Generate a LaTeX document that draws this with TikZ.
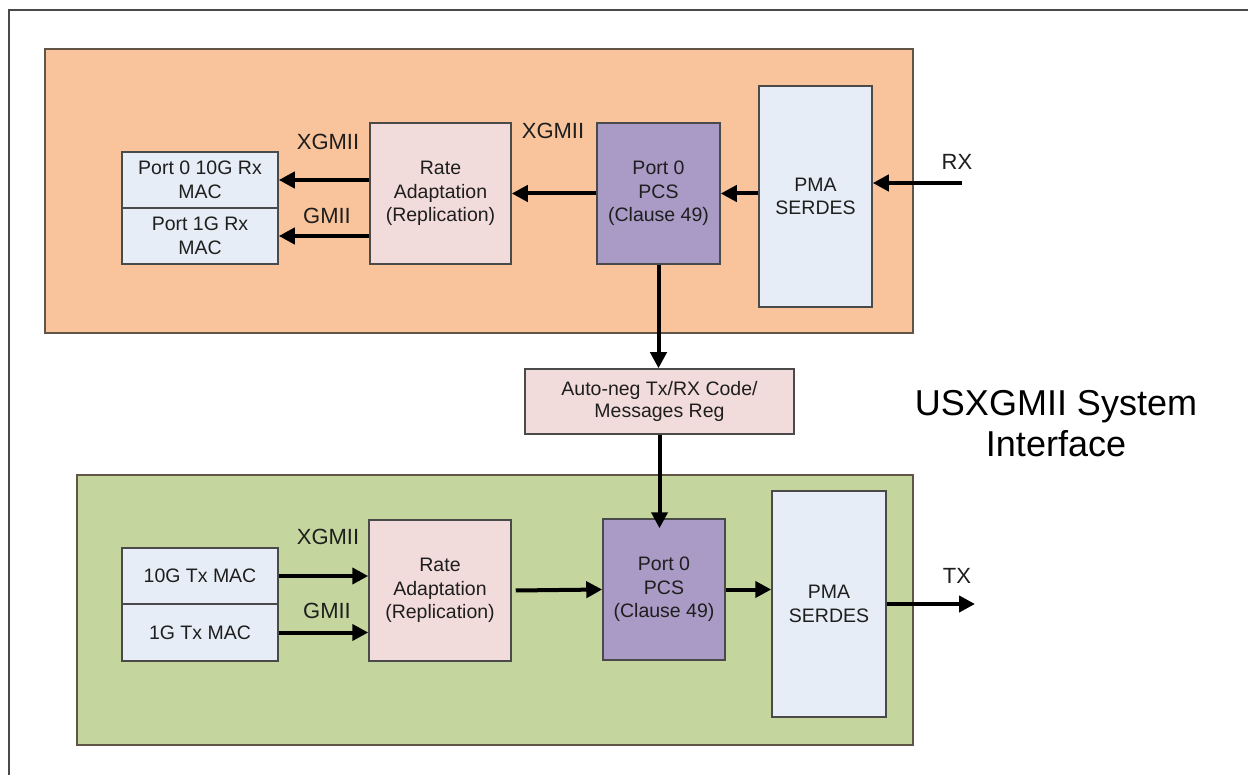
\documentclass[tikz,border=0pt]{standalone}
\usepackage{fontspec}
\setmainfont{Liberation Sans}
\usetikzlibrary{arrows.meta,calc}
\definecolor{orangebg}{HTML}{F9C49B}
\definecolor{greenbg}{HTML}{C4D69D}
\definecolor{macblue}{HTML}{E7EDF6}
\definecolor{ratepink}{HTML}{F2DCDB}
\definecolor{pcspurple}{HTML}{A99BC5}
\definecolor{edgegray}{HTML}{4A4A4A}
\definecolor{txtcol}{HTML}{1E1E1E}
\tikzset{
  blk/.style={draw=edgegray, line width=1.5pt, inner sep=0pt, text=txtcol,
    align=center, font=\fontsize{19.5}{23.5}\selectfont},
  arr/.style={line width=4pt, -{Triangle[length=16pt,width=16pt]}},
  lbl/.style={text=txtcol, inner sep=0pt, font=\fontsize{22}{26}\selectfont},
  region/.style={draw=edgegray!80!brown, line width=1.5pt}
}
\begin{document}
\begin{tikzpicture}[x=1pt,y=-1pt]
\useasboundingbox (0,0) rectangle (1248,775);
\fill[white] (0,0) rectangle (1248,775);
% outer frame
\draw[edgegray, line width=2pt] (9,775) -- (9,10) -- (1248,10);
% regions
\draw[region, fill=orangebg] (45,49) rectangle (913,333);
\draw[region, fill=greenbg] (77,475) rectangle (913,745);

% top (RX) blocks
\node[blk, fill=macblue, minimum width=156pt, minimum height=56pt] (mac10r) at (200,180) {Port 0 10G Rx\\MAC};
\node[blk, fill=macblue, minimum width=156pt, minimum height=56pt] (mac1r) at (200,236) {Port 1G Rx\\MAC};
\node[blk, fill=ratepink, minimum width=141pt, minimum height=141pt] (rateT) at (440.5,193.5) {Rate\\Adaptation\\(Replication)};
\node[blk, fill=pcspurple, minimum width=123pt, minimum height=141pt] (pcsT) at (658.5,193.5) {Port 0\\PCS\\(Clause 49)};
\node[blk, fill=macblue, minimum width=113pt, minimum height=221pt] (pmaT) at (815.5,196.5) {PMA\\SERDES};

% auto-neg
\node[blk, fill=ratepink, minimum width=269pt, minimum height=65pt,
  font=\fontsize{19.5}{22}\selectfont] (auto) at (659.5,401.5) {Auto-neg Tx/RX Code/\\Messages Reg};

% bottom (TX) blocks
\node[blk, fill=macblue, minimum width=156pt, minimum height=56pt] (mac10t) at (200,576) {10G Tx MAC};
\node[blk, fill=macblue, minimum width=156pt, minimum height=57pt] (mac1t) at (200,632.5) {1G Tx MAC};
\node[blk, fill=ratepink, minimum width=142pt, minimum height=141pt] (rateB) at (440,590.5) {Rate\\Adaptation\\(Replication)};
\node[blk, fill=pcspurple, minimum width=122pt, minimum height=141pt] (pcsB) at (664,589.5) {Port 0\\PCS\\(Clause 49)};
\node[blk, fill=macblue, minimum width=114pt, minimum height=226pt] (pmaB) at (829,604) {PMA\\SERDES};

% labels
\node[lbl] (lx1) at (328,142) {XGMII};
\node[lbl] (lg1) at (327,216) {GMII};
\node[lbl] (lx2) at (553,131) {XGMII};
\node[lbl] (lrx) at (957,162) {RX};
\node[lbl] (lx3) at (328,537) {XGMII};
\node[lbl] (lg2) at (327,611) {GMII};
\node[lbl] (ltx) at (957,576) {TX};
\node[text=black, align=center, inner sep=0pt, font=\fontsize{36}{41}\selectfont] (title) at (1056,424) {USXGMII System\\Interface};

% connector end points
\coordinate (rxin) at (962,183);
\coordinate (txout) at (975,604);

% top arrows
\draw[arr] (rateT.west |- mac10r.east) -- (mac10r.east);
\draw[arr] (rateT.west |- mac1r.east) -- (mac1r.east);
\draw[arr] (pcsT.west) -- (rateT.east);
\draw[arr] (pmaT.west |- pcsT.east) -- (pcsT.east);
\draw[arr] (rxin) -- (rxin -| pmaT.east);
\draw[arr] (pcsT.south) -- (pcsT.south |- auto.north);
\draw[arr] (auto.south) -- ($(auto.south |- pcsB.north)+(0,10)$);

% bottom arrows
\draw[arr] (mac10t.east) -- (mac10t.east -| rateB.west);
\draw[arr] (mac1t.east) -- (mac1t.east -| rateB.west);
\draw[arr] ($(rateB.east)+(4,0)$) -- (pcsB.west);
\draw[arr] (pcsB.east) -- (pcsB.east -| pmaB.west);
\draw[arr] (pmaB.east) -- (txout);
\end{tikzpicture}
\end{document}
